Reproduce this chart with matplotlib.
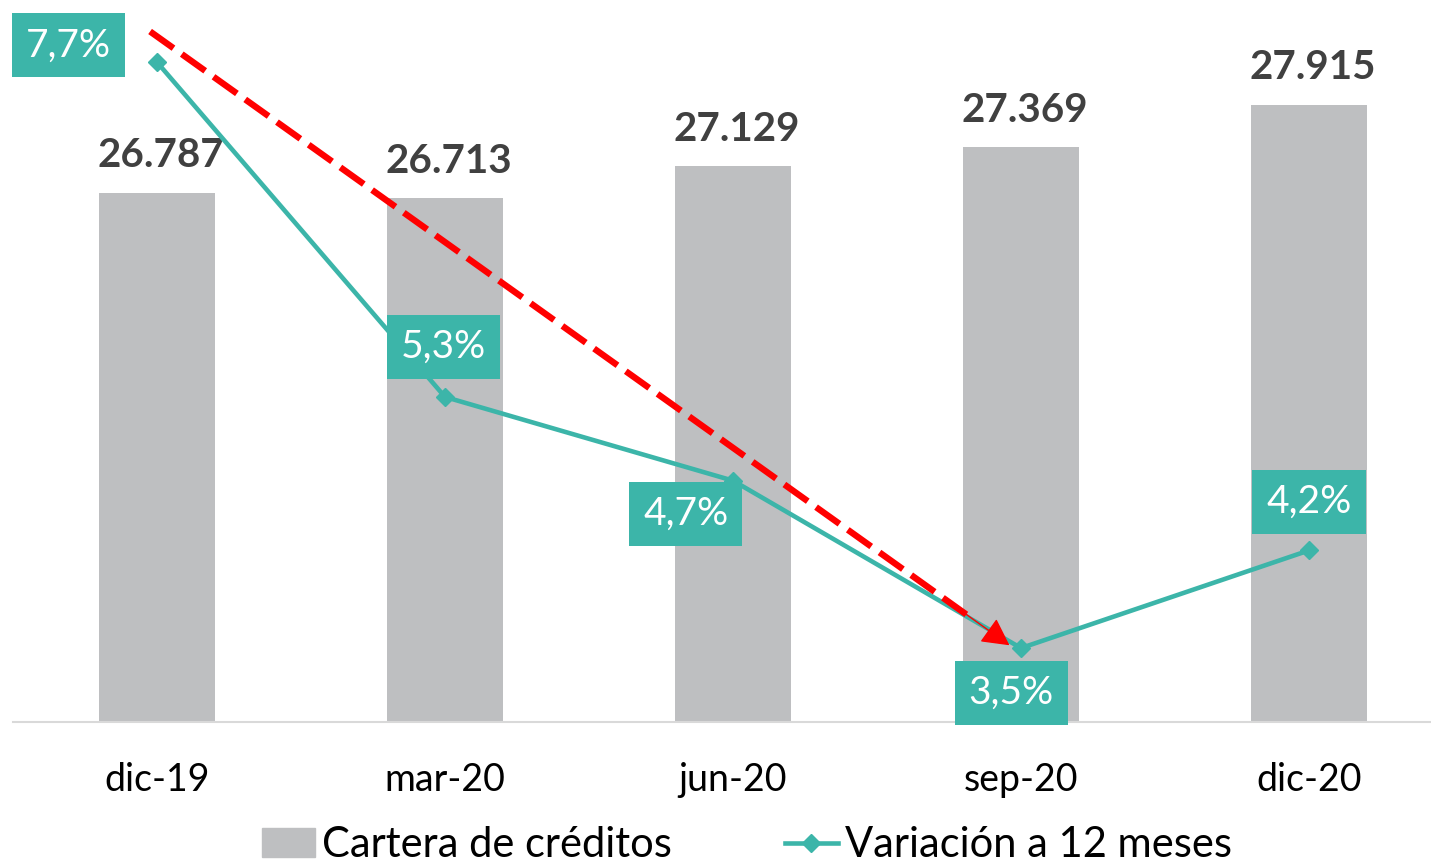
import matplotlib
matplotlib.use('Agg')
import matplotlib.pyplot as plt
from matplotlib.lines import Line2D
from matplotlib.patches import Patch

plt.rcParams['font.family'] = ['Lato', 'DejaVu Sans']

# datos
periodos = ['dic-19', 'mar-20', 'jun-20', 'sep-20', 'dic-20']
cartera = [26787, 26713, 27129, 27369, 27915]
variacion = [7.7, 5.3, 4.7, 3.5, 4.2]
etiquetas_var = ['7,7%', '5,3%', '4,7%', '3,5%', '4,2%']
# desplazamiento de cada etiqueta (en puntos)
offsets_var = [(-64, 12), (-1, 36), (-34, -24), (-7, -32), (0, 35)]
# flecha de tendencia (eje secundario)
flecha_ini = (-0.024, 7.92)
flecha_fin = (2.96, 3.52)

GRIS = '#BEBFC1'
VERDE = '#3CB5A9'
TEXTO = '#404040'

fig = plt.figure(figsize=(14.31, 8.63), dpi=100)
ax = fig.add_axes([13 / 1431, 141 / 863, 1418 / 1431, 722 / 863])
x = list(range(len(periodos)))

ax.bar(x, cartera, width=0.4, color=GRIS, zorder=2)
ax.set_xlim(-0.5, -0.5 + 1418 / 288)
ax.set_ylim(20000, 29255)
for xi, v in zip(x, cartera):
    ax.annotate(f'{v:,}'.replace(',', '.'), (xi, v), xytext=(3, 13),
                textcoords='offset points', ha='center', va='bottom',
                fontsize=29, fontweight='bold', color=TEXTO)

ax.set_xticks(x)
ax.set_xticklabels(periodos, fontsize=27, color='#000000')
ax.tick_params(axis='x', length=0, pad=29)
ax.set_yticks([])
for s in ['top', 'right', 'left']:
    ax.spines[s].set_visible(False)
ax.spines['bottom'].set_color('#D9D9D9')
ax.spines['bottom'].set_linewidth(1.5)

ax2 = ax.twinx()
ax2.set_ylim(2.97, 2.97 + 722 / 139.5)
ax2.set_yticks([])
for s in ax2.spines.values():
    s.set_visible(False)
ax2.plot(x, variacion, color=VERDE, lw=3.3, marker='D', markersize=9, zorder=3)

for xi, v, lab, off in zip(x, variacion, etiquetas_var, offsets_var):
    ax2.annotate(lab, (xi, v), xytext=off, textcoords='offset points',
                 ha='center', va='center', fontsize=28, color='white', zorder=5,
                 bbox=dict(boxstyle='square,pad=0.36', fc=VERDE, ec='none'))

# flecha roja discontinua
fx0, fy0 = flecha_ini
fx1, fy1 = flecha_fin
t = 0.95
bx, by = fx0 + t * (fx1 - fx0), fy0 + t * (fy1 - fy0)
ax2.plot([fx0, bx], [fy0, by], color='#FF0000', lw=4.6, ls=(0, (4.5, 1.6)), zorder=4)
ax2.annotate('', xy=(fx1, fy1), xytext=(bx, by),
             arrowprops=dict(arrowstyle='-|>,head_length=1.7,head_width=0.9',
                             color='#FF0000', lw=1, shrinkA=0, shrinkB=0), zorder=4)

handles = [Patch(color=GRIS),
           Line2D([], [], color=VERDE, lw=3.3, marker='D', markersize=9)]
fig.legend(handles, ['Cartera de créditos', 'Variación a 12 meses'],
           loc='lower center', bbox_to_anchor=(0.522, -0.045), ncol=2, frameon=False,
           fontsize=30, columnspacing=2.7, handlelength=1.27, handletextpad=0.17)

plt.savefig('out.png', dpi=100)
